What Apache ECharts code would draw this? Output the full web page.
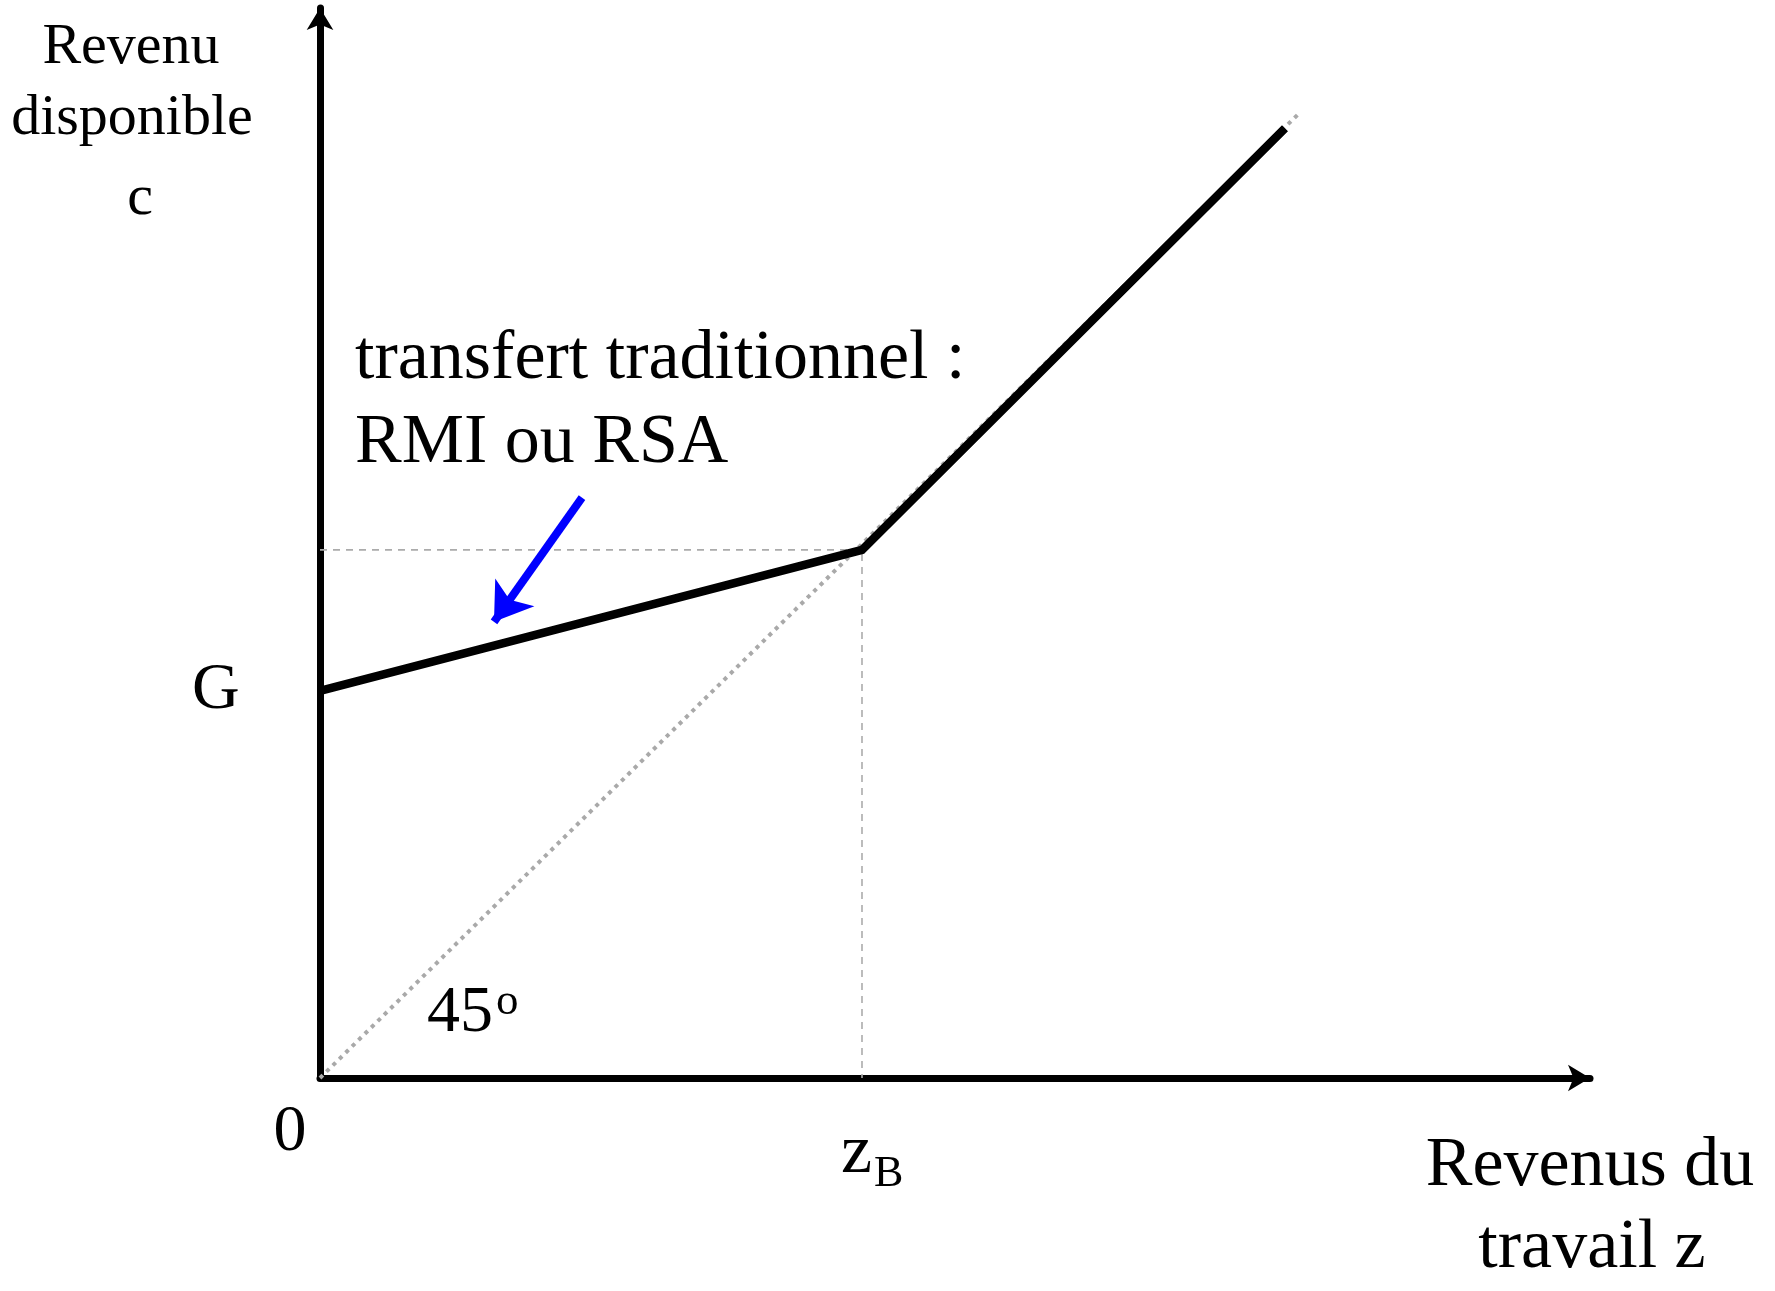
<!DOCTYPE html>
<html>
<head>
<meta charset="utf-8">
<script src="https://cdn.jsdelivr.net/npm/echarts@6/dist/echarts.min.js"></script>
<style>
  html, body { margin: 0; padding: 0; background: #fff; }
  #chart { width: 1775px; height: 1291px; }
</style>
</head>
<body>
<div id="chart"></div>
<script>
    // --- données (unités arbitraires, z en abscisse, c en ordonnée) ---
    // contrainte budgétaire : G à z = 0, coude en zB, puis droite à 45°
    var budgetZ = [0, 54.2, 96.5];
    var budgetC = [39.3, 53.6, 96.4];

    // droite à 45° (pointillés gris)
    var diagZ = [0, 97.8];
    var diagC = [0, 97.8];

    // point de sortie du dispositif
    var kinkZ = 54.2;
    var kinkC = 53.6;

    // flèche bleue (départ -> pointe)
    var arrowZ = [26.2, 17.4];
    var arrowC = [58.9, 46.3];

    var SERIF = '"Liberation Serif", "Times New Roman", serif';

    function zip(xs, ys) {
        return xs.map(function (x, i) { return [x, ys[i]]; });
    }

    // texte positionné sur sa ligne de base
    function label(str, x, baseline, size, align) {
        return {
            type: 'text',
            x: x,
            y: baseline - size * 0.34,
            silent: true,
            style: {
                text: str,
                font: size + 'px ' + SERIF,
                fill: '#000',
                align: align || 'left',
                verticalAlign: 'middle'
            }
        };
    }

    var chart = echarts.init(document.getElementById('chart'));

    var axisCommon = {
        type: 'value',
        min: 0,
        splitLine: { show: false },
        axisTick: { show: false },
        axisLabel: { show: false },
        axisLine: {
            show: true,
            onZero: true,
            symbol: ['none', 'arrow'],
            symbolSize: [20, 22],
            lineStyle: { color: '#000', width: 7 }
        }
    };

    chart.setOption({
        animation: false,
        backgroundColor: '#fff',
        grid: { left: 320, right: 185, top: 8, bottom: 213 },
        xAxis: Object.assign({}, axisCommon, { max: 127 }),
        yAxis: Object.assign({}, axisCommon, { max: 108.6 }),
        series: [
            {
                // 45°
                type: 'line',
                data: zip(diagZ, diagC),
                symbol: 'none',
                z: 1,
                lineStyle: { color: '#a9a9a9', width: 4, type: [4, 5] }
            },
            {
                // repères en tirets
                type: 'line',
                data: [[0, kinkC], [kinkZ, kinkC], [kinkZ, 0]],
                symbol: 'none',
                z: 1,
                lineStyle: { color: '#ababab', width: 1.6, type: [7, 6] }
            },
            {
                // revenu disponible
                type: 'line',
                data: zip(budgetZ, budgetC),
                symbol: 'none',
                z: 3,
                lineStyle: { color: '#000', width: 8.5, join: 'miter' }
            },
            {
                type: 'lines',
                coordinateSystem: 'cartesian2d',
                z: 4,
                symbol: ['none', 'arrow'],
                symbolSize: 36,
                lineStyle: { color: '#0000ff', width: 8, opacity: 1 },
                data: [{ coords: zip(arrowZ, arrowC) }]
            }
        ],
        graphic: [
            label('Revenu', 131, 67, 58, 'center'),
            label('disponible', 132, 138, 58, 'center'),
            label('c', 140, 218, 58, 'center'),
            label('transfert traditionnel :', 355, 383, 70),
            label('RMI ou RSA', 355, 467, 70),
            label('G', 192, 713, 66),
            label('0', 290, 1155, 66, 'center'),
            label('z', 841, 1177, 70),
            label('B', 874, 1189, 44),
            label('45', 427, 1036, 66),
            label('o', 496, 1017, 45),
            label('Revenus du', 1590, 1190, 70, 'center'),
            label('travail z', 1592, 1272, 70, 'center')
        ]
    });
</script>
</body>
</html>
